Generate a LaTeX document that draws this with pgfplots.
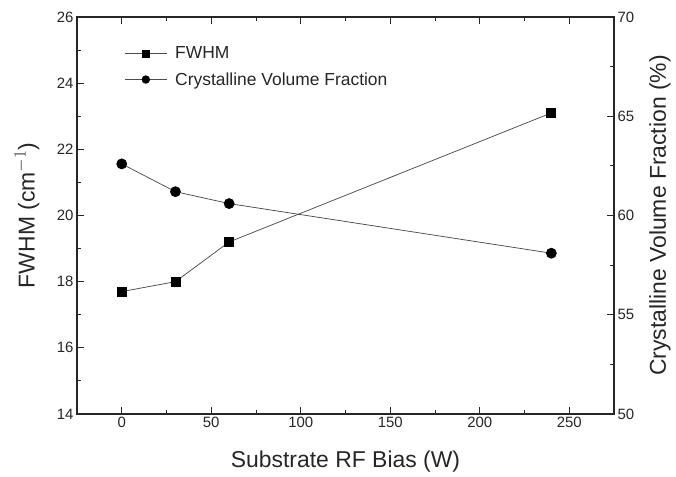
\documentclass[border=0pt]{standalone}
\usepackage{pgfplots}
\pgfplotsset{compat=1.18}
\usepackage{fontspec}
\setmainfont{Liberation Sans}
\begin{document}
\begin{tikzpicture}
\pgfplotsset{
  every axis/.append style={
    scale only axis, width=537bp, height=397bp,
    xmin=-25, xmax=275,
    tick align=inside,
    major tick length=7bp, minor tick length=4bp,
    axis line style={line width=1.1pt, black!85},
    every tick/.style={black!85, line width=1pt},
    /pgf/number format/assume math mode=true,
    tick label style={font=\fontsize{15}{17}\selectfont, black!85},
    label style={font=\fontsize{23}{26}\selectfont, black!85},
  },
  myline/.style={color=black!70, line width=0.75pt, mark options={fill=black, draw=black, solid}},
}
\path (-77bp,-60bp) rectangle (599bp,414bp);
\begin{axis}[
  ymin=14, ymax=26,
  ytick={14,16,...,26},
  minor ytick={15,17,...,25},
  xtick={0,50,...,250},
  minor xtick={25,75,...,225},
  xtick pos=both, ytick pos=left,
  xlabel={Substrate RF Bias (W)},
  ylabel={FWHM (cm$^{-1}$)},
  xlabel style={at={(axis description cs:0.5,-0.121)}, anchor=center},
  ylabel style={at={(axis description cs:-0.0931,0.5)}, anchor=center},
]
\addplot[myline, mark=square*, mark size=4.5bp] coordinates {
  (0,17.7) (30,18.0) (60,19.2) (240,23.1)
};
\end{axis}
\begin{axis}[
  ymin=50, ymax=70,
  ytick={50,55,...,70},
  minor ytick={52.5,57.5,62.5,67.5},
  axis x line=none,
  axis y line*=right,
  ytick pos=right,
  ylabel={Crystalline Volume Fraction (\%)},
  ylabel style={at={(axis description cs:1.0857,0.5)}, anchor=center},
  legend style={draw=none, fill=none, at={(axis description cs:0.088,0.93)}, anchor=north west,
    font=\fontsize{17.5}{20}\selectfont, row sep=8bp, inner sep=0pt,
    nodes={inner sep=2bp, text=black!85}},
  legend cell align=left,
  legend image post style={mark size=3.8bp},
  legend image code/.code={\draw[#1, mark repeat=2, mark phase=2] plot coordinates {(0bp,0bp) (21bp,0bp) (42bp,0bp)}; \path (48bp,0bp);},
]
\addlegendimage{myline, mark=square*, mark size=3.6bp}
\addlegendentry{FWHM}
\addplot[myline, mark=*, mark size=5bp] coordinates {
  (0,62.6) (30,61.2) (60,60.6) (240,58.1)
};
\addlegendentry{Crystalline Volume Fraction}
\end{axis}
\end{tikzpicture}
\end{document}
